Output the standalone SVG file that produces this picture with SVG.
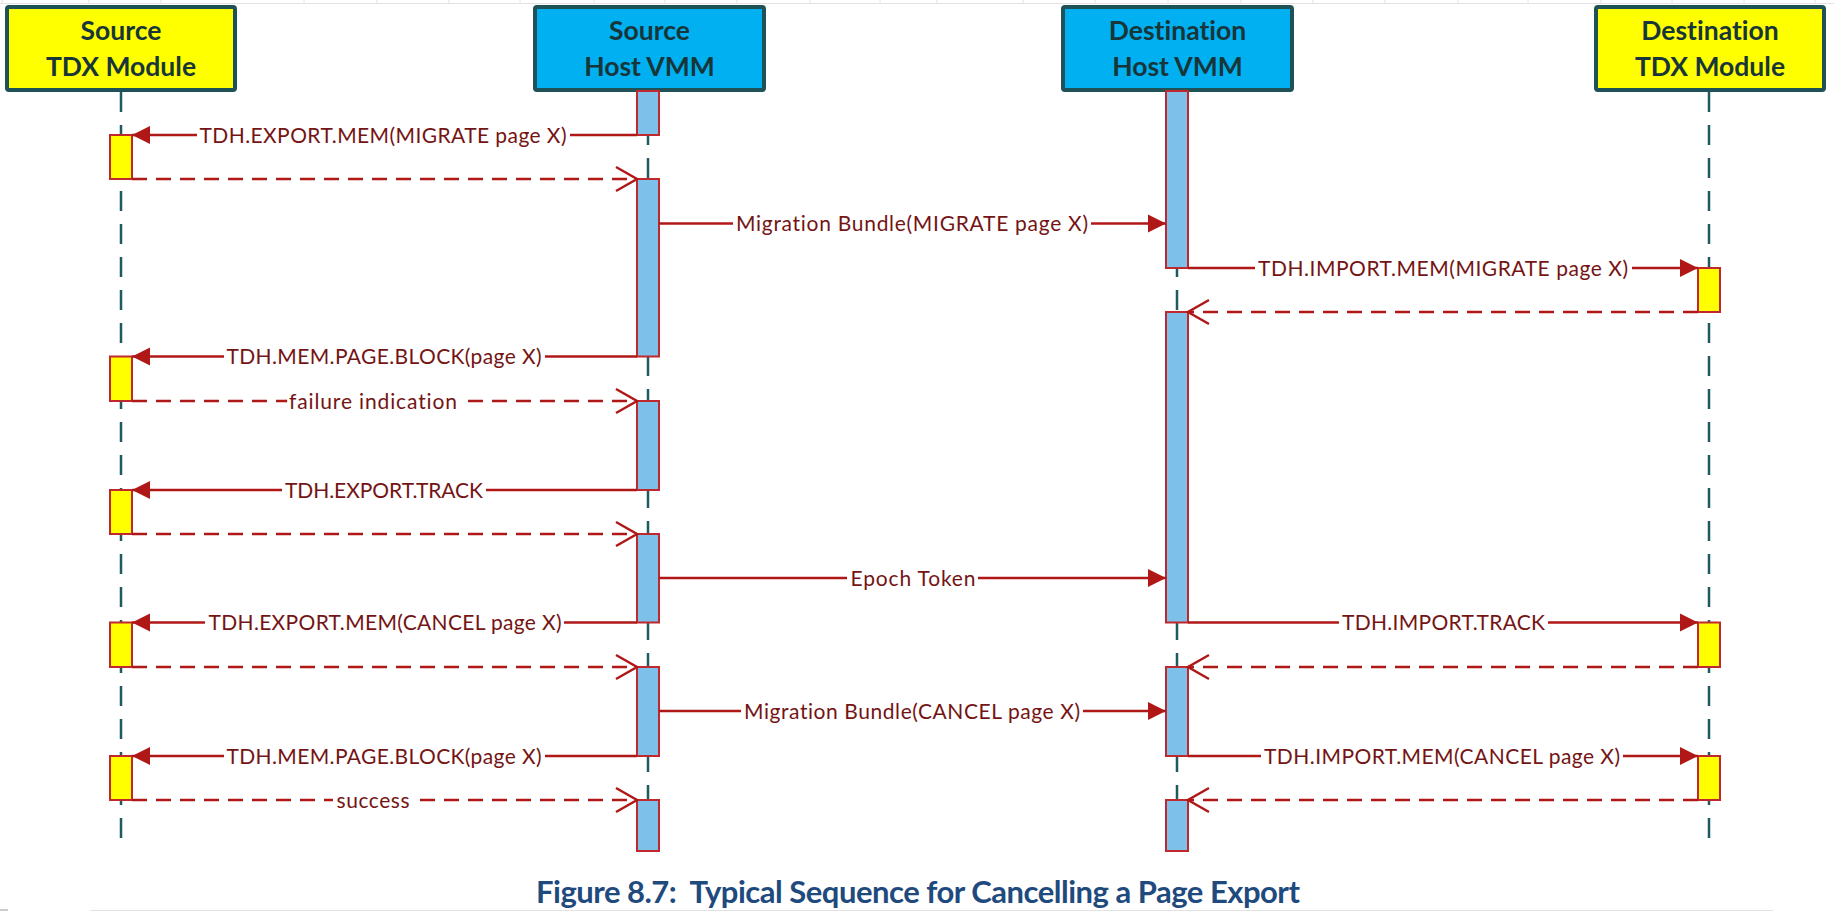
<svg xmlns="http://www.w3.org/2000/svg" width="1834" height="912" viewBox="0 0 1834 912">
<style>
text{font-variant-ligatures:none;font-feature-settings:"liga" 0}
.hdr{stroke:#1F5257;stroke-width:4}
.yel{fill:#FFFF00}
.blu{fill:#00B0F0}
.htxt{font-family:Lato,"Open Sans","Liberation Sans",sans-serif;font-weight:bold;font-size:26.5px;fill:#18363A;text-anchor:middle}
.life{stroke:#1F5A5E;stroke-width:2.5;stroke-dasharray:20 13;fill:none}
.actY{fill:#FFFF00;stroke:#C0282D;stroke-width:2}
.actB{fill:#7DC0EA;stroke:#C0282D;stroke-width:2}
.msg{stroke:#B01818;stroke-width:2.5;fill:none}
.ret{stroke:#B01818;stroke-width:2.5;fill:none;stroke-dasharray:15 9}
.lbl{font-family:Lato,"Open Sans","Liberation Sans",sans-serif;font-size:21px;fill:#741414;text-anchor:middle}
.bg{fill:#FFFFFF}
.cap{font-family:Lato,"Open Sans","Liberation Sans",sans-serif;font-weight:bold;font-size:31px;fill:#1F4A7E;text-anchor:middle;white-space:pre}
.faint{stroke:#E2E2E2;stroke-width:1;fill:none}
</style>
<defs>
<marker id="solid" markerUnits="userSpaceOnUse" markerWidth="20" markerHeight="20" refX="18" refY="9" orient="auto" overflow="visible">
<path d="M0,0 L18,9 L0,18 Z" fill="#B01818"/>
</marker>
<marker id="open" markerUnits="userSpaceOnUse" markerWidth="26" markerHeight="28" refX="21" refY="12" orient="auto" overflow="visible">
<path d="M0,0 L21,12 L0,24" fill="none" stroke="#B01818" stroke-width="2.5"/>
</marker>
</defs>
<rect x="0" y="0" width="1834" height="912" fill="#FFFFFF"/>
<g id="page-artifacts">
<path class="faint" d="M0,3.5 H1834 M2,0 V3 M89,0 V3 M161,0 V3 M304,0 V3 M377,0 V3 M449,0 V3 M520,0 V3 M594,0 V3 M665,0 V3 M737,0 V3 M810,0 V3 M880,0 V3 M937,0 V3 M1023,0 V3 M1095,0 V3 M1168,0 V3 M1241,0 V3 M1313,0 V3 M1385,0 V3 M1458,0 V3 M1528,0 V3 M1601,0 V3 M1672,0 V3 M1744,0 V3 M1815,0 V3"/>
<path class="faint" d="M90,910.5 H1773"/>
<path d="M0,910 H8" stroke="#BBBBBB" stroke-width="1.5"/>
</g>
<g id="lifelines">
<line class="life" x1="121" y1="92" x2="121" y2="846"/>
<line class="life" x1="648" y1="92" x2="648" y2="851"/>
<line class="life" x1="1177" y1="92" x2="1177" y2="851"/>
<line class="life" x1="1709" y1="92" x2="1709" y2="846"/>
</g>
<g id="src-tdx">
<rect class="hdr yel" x="7" y="7" width="228" height="83" rx="2"/>
<text class="htxt" x="121" y="39.5">Source</text>
<text class="htxt" x="121" y="75.5">TDX Module</text>
<rect class="actY" x="110" y="135" width="22" height="44"/>
<rect class="actY" x="110" y="356.5" width="22" height="44.5"/>
<rect class="actY" x="110" y="490" width="22" height="44"/>
<rect class="actY" x="110" y="622.5" width="22" height="44.5"/>
<rect class="actY" x="110" y="756" width="22" height="44"/>
</g>
<g id="src-vmm">
<rect class="hdr blu" x="535" y="7" width="229" height="83" rx="2"/>
<text class="htxt" x="649.5" y="39.5">Source</text>
<text class="htxt" x="649.5" y="75.5">Host VMM</text>
<rect class="actB" x="637" y="91" width="22" height="44"/>
<rect class="actB" x="637" y="179" width="22" height="177.5"/>
<rect class="actB" x="637" y="401" width="22" height="89"/>
<rect class="actB" x="637" y="534" width="22" height="88.5"/>
<rect class="actB" x="637" y="667" width="22" height="89"/>
<rect class="actB" x="637" y="800" width="22" height="51"/>
</g>
<g id="dst-vmm">
<rect class="hdr blu" x="1063" y="7" width="229" height="83" rx="2"/>
<text class="htxt" x="1177.5" y="39.5">Destination</text>
<text class="htxt" x="1177.5" y="75.5">Host VMM</text>
<rect class="actB" x="1166" y="91" width="22" height="177"/>
<rect class="actB" x="1166" y="312" width="22" height="310.5"/>
<rect class="actB" x="1166" y="667" width="22" height="89"/>
<rect class="actB" x="1166" y="800" width="22" height="51"/>
</g>
<g id="dst-tdx">
<rect class="hdr yel" x="1596" y="7" width="228" height="83" rx="2"/>
<text class="htxt" x="1710" y="39.5">Destination</text>
<text class="htxt" x="1710" y="75.5">TDX Module</text>
<rect class="actY" x="1698" y="268" width="22" height="44"/>
<rect class="actY" x="1698" y="622.5" width="22" height="44.5"/>
<rect class="actY" x="1698" y="756" width="22" height="44"/>
</g>
<g id="connectors">
<line class="msg" x1="637" y1="135" x2="132" y2="135" marker-end="url(#solid)"/>
<line class="ret" x1="132" y1="179" x2="637" y2="179" marker-end="url(#open)"/>
<line class="msg" x1="659" y1="223.5" x2="1166" y2="223.5" marker-end="url(#solid)"/>
<line class="msg" x1="1188" y1="268" x2="1698" y2="268" marker-end="url(#solid)"/>
<line class="ret" x1="1698" y1="312" x2="1188" y2="312" marker-end="url(#open)"/>
<line class="msg" x1="637" y1="356.5" x2="132" y2="356.5" marker-end="url(#solid)"/>
<line class="ret" x1="132" y1="401" x2="637" y2="401" marker-end="url(#open)"/>
<line class="msg" x1="637" y1="490" x2="132" y2="490" marker-end="url(#solid)"/>
<line class="ret" x1="132" y1="534" x2="637" y2="534" marker-end="url(#open)"/>
<line class="msg" x1="659" y1="578" x2="1166" y2="578" marker-end="url(#solid)"/>
<line class="msg" x1="637" y1="622.5" x2="132" y2="622.5" marker-end="url(#solid)"/>
<line class="msg" x1="1188" y1="622.5" x2="1698" y2="622.5" marker-end="url(#solid)"/>
<line class="ret" x1="132" y1="667" x2="637" y2="667" marker-end="url(#open)"/>
<line class="ret" x1="1698" y1="667" x2="1188" y2="667" marker-end="url(#open)"/>
<line class="msg" x1="659" y1="711" x2="1166" y2="711" marker-end="url(#solid)"/>
<line class="msg" x1="637" y1="756" x2="132" y2="756" marker-end="url(#solid)"/>
<line class="msg" x1="1188" y1="756" x2="1698" y2="756" marker-end="url(#solid)"/>
<line class="ret" x1="132" y1="800" x2="637" y2="800" marker-end="url(#open)"/>
<line class="ret" x1="1698" y1="800" x2="1188" y2="800" marker-end="url(#open)"/>
</g>
<g id="labels">
<rect class="bg" x="197" y="124" width="373" height="22"/>
<text class="lbl" x="383" y="142.5" textLength="367">TDH.EXPORT.MEM(MIGRATE page X)</text>
<rect class="bg" x="733" y="212.5" width="358" height="22"/>
<text class="lbl" x="912" y="231" textLength="352">Migration Bundle(MIGRATE page X)</text>
<rect class="bg" x="1255" y="257" width="377" height="22"/>
<text class="lbl" x="1443" y="275.5" textLength="370">TDH.IMPORT.MEM(MIGRATE page X)</text>
<rect class="bg" x="224" y="345.5" width="321" height="22"/>
<text class="lbl" x="384" y="364" textLength="315">TDH.MEM.PAGE.BLOCK(page X)</text>
<rect class="bg" x="287" y="390" width="174" height="22"/>
<circle cx="286" cy="401" r="1.3" fill="#B01818"/>
<text class="lbl" x="373" y="408.5" textLength="168">failure indication</text>
<rect class="bg" x="282" y="479" width="204" height="22"/>
<text class="lbl" x="384" y="497.5" textLength="198">TDH.EXPORT.TRACK</text>
<rect class="bg" x="847" y="567" width="131" height="22"/>
<text class="lbl" x="913" y="585.5" textLength="125">Epoch Token</text>
<rect class="bg" x="205" y="611.5" width="359" height="22"/>
<text class="lbl" x="385" y="630" textLength="353">TDH.EXPORT.MEM(CANCEL page X)</text>
<rect class="bg" x="1339" y="611.5" width="209" height="22"/>
<text class="lbl" x="1443.5" y="630" textLength="203">TDH.IMPORT.TRACK</text>
<rect class="bg" x="741" y="700" width="342" height="22"/>
<text class="lbl" x="912" y="718.5" textLength="336">Migration Bundle(CANCEL page X)</text>
<rect class="bg" x="224" y="745" width="321" height="22"/>
<text class="lbl" x="384" y="763.5" textLength="315">TDH.MEM.PAGE.BLOCK(page X)</text>
<rect class="bg" x="1261" y="745" width="362" height="22"/>
<text class="lbl" x="1442" y="763.5" textLength="356">TDH.IMPORT.MEM(CANCEL page X)</text>
<rect class="bg" x="333" y="789" width="79" height="22"/>
<text class="lbl" x="373" y="807.5" textLength="73">success</text>
</g>
<g id="caption">
<text class="cap" x="918" y="903" textLength="764">Figure 8.7:  Typical Sequence for Cancelling a Page Export</text>
</g>
</svg>
